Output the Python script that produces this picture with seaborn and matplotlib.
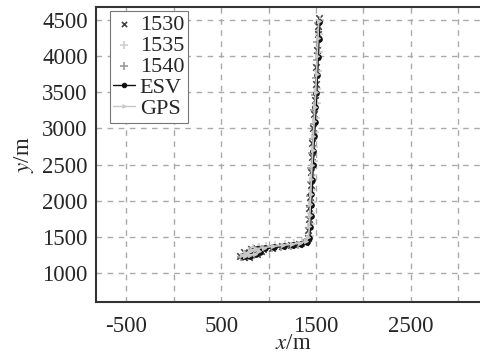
import matplotlib
matplotlib.use("Agg")
import matplotlib.pyplot as plt
import seaborn as sns
import pandas as pd

gps_x = [720, 760, 820, 880, 900, 860, 800, 750, 800, 870, 950, 1050, 1150, 1250, 1330, 1390, 1420, 1430, 1435, 1440, 1445, 1450, 1458, 1465, 1472, 1480, 1488, 1496, 1505, 1512, 1520, 1528]
gps_y = [1250, 1280, 1320, 1340, 1300, 1270, 1250, 1240, 1300, 1340, 1355, 1370, 1385, 1400, 1415, 1440, 1500, 1650, 1800, 1950, 2100, 2300, 2500, 2700, 2900, 3100, 3300, 3500, 3750, 4000, 4250, 4480]

esv_x = [730, 770, 830, 885, 905, 865, 805, 755, 810, 880, 960, 1060, 1160, 1260, 1340, 1400, 1428, 1436, 1442, 1446, 1452, 1458, 1464, 1470, 1478, 1486, 1494, 1502, 1510, 1518, 1526, 1534]
esv_y = [1240, 1275, 1310, 1330, 1290, 1262, 1244, 1236, 1290, 1330, 1345, 1362, 1378, 1392, 1408, 1432, 1490, 1640, 1790, 1940, 2090, 2290, 2490, 2690, 2890, 3090, 3290, 3490, 3740, 3990, 4240, 4470]

s1530_x = [700, 745, 810, 870, 915, 875, 790, 740, 790, 860, 940, 1040, 1140, 1240, 1320, 1380, 1410, 1420, 1425, 1430, 1437, 1442, 1448, 1455, 1462, 1470, 1478, 1486, 1495, 1502, 1510, 1518, 1525, 1530]
s1530_y = [1235, 1290, 1335, 1355, 1310, 1260, 1230, 1225, 1285, 1325, 1340, 1355, 1370, 1385, 1400, 1425, 1480, 1600, 1750, 1900, 2050, 2220, 2400, 2600, 2800, 3000, 3200, 3400, 3620, 3850, 4080, 4300, 4420, 4520]

s1535_x = [740, 790, 840, 895, 920, 880, 815, 770, 815, 890, 970, 1070, 1170, 1270, 1350, 1410, 1440, 1448, 1452, 1458, 1462, 1468, 1475, 1482, 1490, 1498, 1505, 1512, 1520, 1528, 1536, 1545]
s1535_y = [1265, 1300, 1345, 1360, 1320, 1285, 1265, 1255, 1315, 1355, 1370, 1385, 1398, 1412, 1428, 1455, 1520, 1680, 1830, 1980, 2150, 2350, 2550, 2750, 2950, 3150, 3350, 3550, 3800, 4050, 4300, 4500]

s1540_x = [710, 750, 800, 860, 890, 850, 780, 735, 780, 855, 935, 1035, 1135, 1235, 1315, 1375, 1412, 1425, 1430, 1434, 1440, 1446, 1452, 1460, 1466, 1474, 1482, 1490, 1500, 1508, 1515, 1522]
s1540_y = [1228, 1265, 1300, 1325, 1285, 1250, 1232, 1222, 1278, 1318, 1335, 1350, 1365, 1378, 1395, 1420, 1470, 1620, 1770, 1920, 2070, 2260, 2460, 2660, 2860, 3060, 3260, 3460, 3700, 3950, 4200, 4460]

x_ticks = [-500, 500, 1500, 2500]
y_ticks = [1000, 1500, 2000, 2500, 3000, 3500, 4000, 4500]
grid_x = [-500, 0, 500, 1000, 1500, 2000, 2500, 3000]
grid_y = [1000, 1500, 2000, 2500, 3000, 3500, 4000, 4500]

sns.set_style("ticks")
plt.rcParams['font.family'] = ['Liberation Serif', 'DejaVu Serif']
plt.rcParams['mathtext.fontset'] = 'stix'
plt.rcParams['axes.unicode_minus'] = False

fig = plt.figure(figsize=(4.8, 3.61), dpi=100)
ax = fig.add_axes([0.2, 0.163, 0.82, 0.818])

for gx in grid_x:
    ax.axvline(gx, color='#aaaaaa', ls=(0, (4, 4)), lw=1.0, zorder=0)
for gy in grid_y:
    ax.axhline(gy, color='#aaaaaa', ls=(0, (4, 4)), lw=1.0, zorder=0)

df_gps = pd.DataFrame({'x': gps_x, 'y': gps_y})
df_esv = pd.DataFrame({'x': esv_x, 'y': esv_y})
df1 = pd.DataFrame({'x': s1530_x, 'y': s1530_y})
df2 = pd.DataFrame({'x': s1535_x, 'y': s1535_y})
df3 = pd.DataFrame({'x': s1540_x, 'y': s1540_y})

sns.scatterplot(data=df1, x='x', y='y', ax=ax, color='#444444', marker='x',
                s=22, linewidth=1.2, label='1530', zorder=3)
sns.scatterplot(data=df2, x='x', y='y', ax=ax, color='#cfcfcf', marker='+',
                s=40, linewidth=1.2, label='1535', zorder=3)
sns.scatterplot(data=df3, x='x', y='y', ax=ax, color='#9a9a9a', marker='+',
                s=40, linewidth=1.2, label='1540', zorder=3)
sns.lineplot(data=df_esv, x='x', y='y', sort=False, ax=ax, color='#111111', lw=1.8,
             marker='o', markersize=4, mec='#111111', label='ESV', estimator=None, zorder=4)
sns.lineplot(data=df_gps, x='x', y='y', sort=False, ax=ax, color='#c8c8c8', lw=1.2,
             marker='>', markersize=3, mec='#c8c8c8', label='GPS', estimator=None, zorder=5)

ax.set_xlim(-820, 3330)
ax.set_ylim(600, 4680)
ax.set_xticks(x_ticks)
ax.set_yticks(y_ticks)
ax.tick_params(direction='in', length=0, labelsize=16.5)
ax.tick_params(axis='x', pad=10)
ax.tick_params(axis='y', pad=6)
ax.set_xlabel(r'$x$/m', fontsize=16.5, labelpad=-3)
ax.set_ylabel(r'$y$/m', fontsize=16.5, labelpad=4)
for s in ax.spines.values():
    s.set_color('#333333')
    s.set_linewidth(1.5)
ax.spines['right'].set_visible(False)

leg = ax.legend(loc='upper left', bbox_to_anchor=(0.035, 0.985), fontsize=16,
                handlelength=1.0, handletextpad=0.2,
                borderpad=0.15, labelspacing=0.02, borderaxespad=0.0, fancybox=False,
                framealpha=1, markerscale=0.8)
leg.get_frame().set_edgecolor('#777777')
leg.get_frame().set_linewidth(0.8)
for line in leg.get_lines():
    line.set_linewidth(1.0)

fig.savefig('out.png', dpi=100)
